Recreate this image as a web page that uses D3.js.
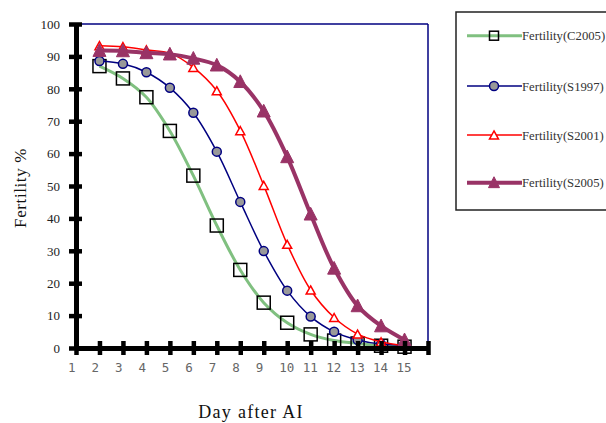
<!DOCTYPE html>
<html><head><meta charset="utf-8">
<script src="https://cdn.jsdelivr.net/npm/d3@7"></script>
<style>body{margin:0;background:#fff}svg{display:block}</style>
</head><body>
<svg id="chart" width="606" height="423"></svg>
<script>
const days = [2,3,4,5,6,7,8,9,10,11,12,13,14,15];
const xTicks = [1,2,3,4,5,6,7,8,9,10,11,12,13,14,15,16];
const yTicks = [0,10,20,30,40,50,60,70,80,90,100];
const seriesNames = ["Fertility(C2005)","Fertility(S1997)","Fertility(S2001)","Fertility(S2005)"];
const c2005 = [87,83.2,77.4,67,53.2,37.8,24.1,14,7.8,4.2,2.3,1.4,0.7,0.4];
const s1997 = [88.6,87.7,85.1,80.3,72.6,60.6,45.1,29.9,17.7,9.7,5,2.5,1.2,0.8];
const s2001 = [93.3,93,92,91,86.6,79.4,67.1,50.2,32,17.9,9.4,4.3,1.9,0.6];
const s2005 = [91.8,91.7,91.1,90.7,89.4,87.3,82.2,73.1,59,41.3,24.6,13,6.8,2.5];
const xTitle = "Day after AI";
const yTitle = "Fertility %";

const svg = d3.select("#chart");
const x = d3.scaleLinear().domain([1,16]).range([76,428]);
const y = d3.scaleLinear().domain([0,100]).range([348,24]);

const styles = [
  {color:"#80c080", width:3, marker:"square"},
  {color:"#000080", width:1.5, marker:"circle"},
  {color:"#ff0000", width:1.5, marker:"openTri"},
  {color:"#993366", width:4, marker:"fillTri"}
];
const allData = [c2005, s1997, s2001, s2005];

// frame top & right
svg.append("line").attr("x1",x(1)).attr("x2",x(16)).attr("y1",y(100)).attr("y2",y(100))
  .attr("stroke","#000080").attr("stroke-width",1.5);
svg.append("line").attr("x1",x(16)).attr("x2",x(16)).attr("y1",y(100)).attr("y2",y(0))
  .attr("stroke","#000080").attr("stroke-width",1.5);

function drawMarker(g, type, cx, cy, s) {
  if (type==="square") {
    g.append("rect").attr("x",cx-s/2).attr("y",cy-s/2).attr("width",s).attr("height",s)
      .attr("fill","none").attr("stroke","#000").attr("stroke-width",1.5);
  } else if (type==="circle") {
    g.append("circle").attr("cx",cx).attr("cy",cy).attr("r",s/2)
      .attr("fill","#999").attr("stroke","#000080").attr("stroke-width",1.5);
  } else if (type==="openTri") {
    const h=s*0.9;
    g.append("path").attr("d",`M${cx},${cy-h/2}L${cx+s/2},${cy+h/2}L${cx-s/2},${cy+h/2}Z`)
      .attr("fill","#fff").attr("stroke","#ff0000").attr("stroke-width",1.5);
  } else {
    const h=s*0.9;
    g.append("path").attr("d",`M${cx},${cy-h/2-1}L${cx+s/2},${cy+h/2}L${cx-s/2},${cy+h/2}Z`)
      .attr("fill","#993366").attr("stroke","#993366").attr("stroke-width",1);
  }
}
const plotSizes = [13,9,9,13];
const legSizes = [9,9,9,11];

const line = d3.line().x(d=>x(d[0])).y(d=>y(d[1])).curve(d3.curveCatmullRom.alpha(0.5));

allData.forEach((vals,i)=>{
  const pts = days.map((d,j)=>[d, vals[j]]);
  const g = svg.append("g");
  g.append("path").attr("d", line(pts)).attr("fill","none")
    .attr("stroke",styles[i].color).attr("stroke-width",styles[i].width);
  pts.forEach(p=>drawMarker(g, styles[i].marker, x(p[0]), y(p[1]), plotSizes[i]));
});

// axes
const yAxis = svg.append("g").attr("transform",`translate(${x(1)},0)`)
  .call(d3.axisLeft(y).tickValues(yTicks).tickSizeInner(7).tickSizeOuter(0).tickPadding(9));
yAxis.select(".domain").attr("stroke","#000").attr("stroke-width",5);
yAxis.selectAll(".tick line").attr("x1",6).attr("x2",-7).attr("stroke","#000").attr("stroke-width",4.5);
yAxis.selectAll(".tick text").attr("font-family","'Liberation Serif', serif").attr("font-size",13)
  .attr("fill","#222").attr("dy","0.33em");

const xAxis = svg.append("g").attr("transform",`translate(0,${y(0)})`)
  .call(d3.axisBottom(x).tickValues(xTicks).tickFormat(d=>d===16?"":d).tickSizeInner(7).tickSizeOuter(0));
xAxis.select(".domain").attr("stroke","#000").attr("stroke-width",5);
xAxis.selectAll(".tick line").attr("y1",-7).attr("y2",7).attr("stroke","#000").attr("stroke-width",4.5);
xAxis.selectAll(".tick text").attr("font-family","'DejaVu Sans Mono', monospace").attr("font-size",12.5)
  .attr("fill","#666").attr("text-anchor","start").attr("x",-8.5).attr("y",24).attr("dy",0);

// titles
svg.append("text").attr("transform","translate(26,188) rotate(-90)").attr("text-anchor","middle")
  .attr("font-family","'Liberation Serif', serif").attr("font-size",17).attr("letter-spacing",0.6)
  .attr("fill","#111").text(yTitle);
svg.append("text").attr("x",251).attr("y",418).attr("text-anchor","middle")
  .attr("font-family","'Liberation Serif', serif").attr("font-size",18).attr("letter-spacing",1.3)
  .attr("fill","#111").text(xTitle);

// legend
svg.append("rect").attr("x",456).attr("y",12).attr("width",160).attr("height",198)
  .attr("fill","#fff").attr("stroke","#222").attr("stroke-width",1.5);
const legY = [35.7,86,135,182.7];
seriesNames.forEach((name,i)=>{
  const g = svg.append("g");
  g.append("line").attr("x1",467).attr("x2",522).attr("y1",legY[i]).attr("y2",legY[i])
    .attr("stroke",styles[i].color).attr("stroke-width",styles[i].width);
  drawMarker(g, styles[i].marker, 494, legY[i], legSizes[i]);
  g.append("text").attr("x",522).attr("y",legY[i]+4.5)
    .attr("font-family","'Liberation Serif', serif").attr("font-size",12.7).attr("fill","#333").text(name);
});
</script>
</body></html>
